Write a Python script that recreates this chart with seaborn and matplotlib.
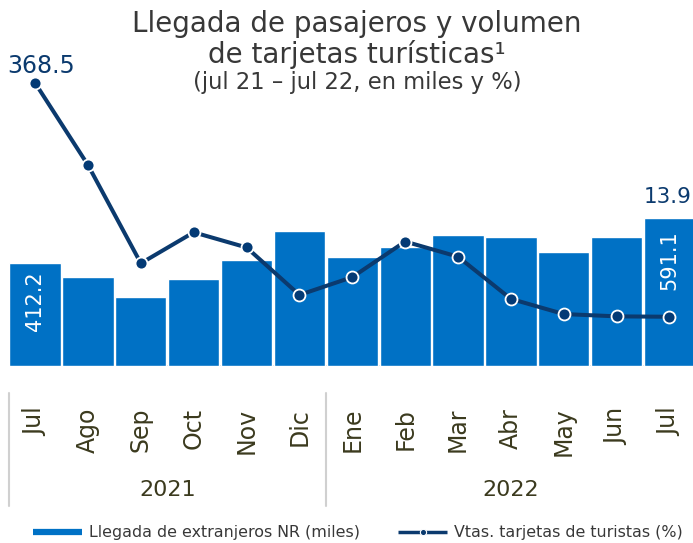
import numpy as np
import pandas as pd
import matplotlib
matplotlib.use("Agg")
import matplotlib.pyplot as plt
import seaborn as sns
from matplotlib.lines import Line2D

months = ["Jul", "Ago", "Sep", "Oct", "Nov", "Dic", "Ene", "Feb", "Mar", "Abr", "May", "Jun", "Jul"]
years = ["2021", "2022"]
arrivals = [412.2, 356, 275, 347, 424, 537, 436, 475, 521, 515, 455, 515, 591.1]
cards = [368.5, 244, 95, 142, 119, 47, 74, 128, 105, 41, 18, 14.5, 13.9]
legend_labels = ["Llegada de extranjeros NR (miles)", "Vtas. tarjetas de turistas (%)"]

BAR = "#0071c5"
LINE = "#0b3a6e"
MARK = "#033a75"
MONTHC = "#3b3a1e"
TXT = "#383838"

sns.set_theme(style="white")
plt.rcParams['font.family'] = ['DejaVu Sans']

W, H = 693, 543
fig = plt.figure(figsize=(W / 100, H / 100), dpi=100)
ax = fig.add_axes([8.7 / W, 1 - 366 / H, 687.2 / W, 306 / H])

idx = np.arange(len(months))
df = pd.DataFrame({"idx": idx, "arrivals": arrivals, "cards": cards})

sns.barplot(data=df, x="idx", y="arrivals", color=BAR, width=0.97, saturation=1,
            edgecolor="white", linewidth=1, ax=ax, zorder=2)
ax.axhline(0, color="#d9d9d9", lw=2, zorder=1)

ax2 = ax.twinx()
sns.lineplot(data=df, x="idx", y="cards", ax=ax2, color=LINE, lw=2.9, marker="o",
             markersize=8.6, markerfacecolor=MARK, markeredgecolor="white",
             markeredgewidth=1.3)

ax.set_ylim(0, 1221)
ax2.set_ylim(-60.8, 403.4)
for a in (ax, ax2):
    a.set_xlim(-0.5, len(months) - 0.5)
    a.set_ylabel("")
    a.set_xlabel("")
    a.set_yticks([])
    for s in a.spines.values():
        s.set_visible(False)

ax.set_xticks(idx)
ax.set_xticklabels(months, rotation=90, color=MONTHC, fontsize=17)
ax.tick_params(axis="x", length=0, pad=30)

xt = ax.get_xaxis_transform()
for xv in [-0.5, 5.5]:
    ax.add_line(Line2D([xv, xv], [-0.088, -0.4575], transform=xt, color="#d0d0d0",
                       lw=1.5, clip_on=False))
ax.text(2.5, -0.405, years[0], transform=xt, ha="center", va="center", fontsize=16, color=MONTHC)
ax.text(9, -0.405, years[1], transform=xt, ha="center", va="center", fontsize=16, color=MONTHC)

ax.annotate(f"{arrivals[0]:.1f}", xy=(0, arrivals[0]), xytext=(0, -6.5), textcoords="offset points",
            rotation=90, ha="center", va="top", color="white", fontsize=15)
ax.annotate(f"{arrivals[-1]:.1f}", xy=(12, arrivals[-1]), xytext=(0, -9), textcoords="offset points",
            rotation=90, ha="center", va="top", color="white", fontsize=15)
ax2.annotate(f"{cards[0]:.1f}", xy=(0, cards[0]), xytext=(4.5, 3.5), textcoords="offset points",
             ha="center", va="bottom", color=LINE, fontsize=17)
ax.annotate(f"{cards[-1]:.1f}", xy=(12, arrivals[-1]), xytext=(-1.5, 8), textcoords="offset points",
            ha="center", va="bottom", color=LINE, fontsize=15.5)

fig.text(357 / W, 1 - 32 / H, "Llegada de pasajeros y volumen", ha="center", va="baseline",
         fontsize=20, color=TXT)
fig.text(357 / W, 1 - 63 / H, "de tarjetas turísticas¹", ha="center", va="baseline",
         fontsize=20, color=TXT)
fig.text(357 / W, 1 - 88.5 / H, "(jul 21 – jul 22, en miles y %)", ha="center", va="baseline",
         fontsize=16.3, color=TXT)

handles = [Line2D([], [], color=BAR, lw=4.5, solid_capstyle="butt"),
           Line2D([], [], color=LINE, lw=2.5, marker="o", markersize=4.5, solid_capstyle="butt",
                  markerfacecolor=LINE, markeredgecolor="white", markeredgewidth=0.8)]
fig.legend(handles, legend_labels, loc="center", bbox_to_anchor=(358 / W, 1 - 533 / H),
           ncol=2, frameon=False, fontsize=11.4, handlelength=3.1, handletextpad=0.45,
           columnspacing=2.4, labelcolor=TXT, borderpad=0, borderaxespad=0)

fig.savefig("out.png", dpi=100)
